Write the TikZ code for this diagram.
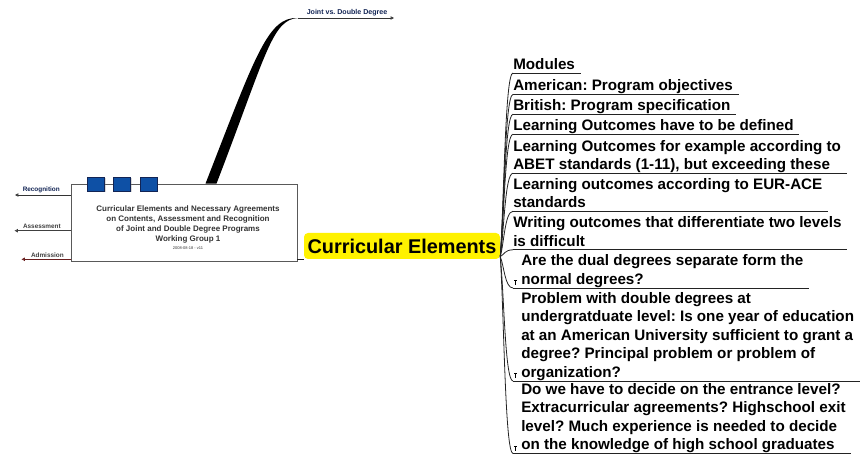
\documentclass[tikz,border=0pt]{standalone}
\usepackage{fontspec}
\setmainfont{Liberation Sans}
\usepackage{xcolor}
\definecolor{WgBlue}{RGB}{14,80,165}
\definecolor{WgNavy}{RGB}{18,36,84}
\definecolor{LinkDark}{RGB}{35,35,35}
\definecolor{AdmRed}{RGB}{105,30,30}
\usetikzlibrary{arrows.meta,calc,shadows,positioning}
\frenchspacing
\tikzset{
  wgbox/.style={draw=black!65, fill=white, line width=0.7pt, minimum width=169.5pt, minimum height=57.75pt, inner sep=0pt},
  wgsq/.style={draw=WgNavy, fill=WgBlue, line width=0.5pt, minimum width=13.1pt, minimum height=10.5pt, inner sep=0pt,
    drop shadow={shadow xshift=0.8pt, shadow yshift=-0.8pt, opacity=0.3}},
  wgtitle/.style={font=\fontsize{6}{7.5}\selectfont\bfseries, text=black!80, align=center, inner sep=0pt},
  topic/.style={fill=yellow, rounded corners=3pt, minimum width=147pt, minimum height=19.5pt, inner sep=0pt,
    font=\fontsize{14.9}{17}\selectfont\bfseries},
  item/.style={font=\fontsize{11.4}{13.9}\selectfont\bfseries, align=left, inner sep=0pt, text depth=2.6pt, anchor=south west},
  branch/.style={draw=LinkDark, line width=0.6pt},
  uline/.style={draw=LinkDark, line width=0.7pt},
  sideline/.style={line width=0.6pt, -{Triangle[open,length=2.6pt,width=2.6pt]}},
  sidelabel/.style={font=\fontsize{4.8}{6}\selectfont\bfseries, inner sep=0pt, anchor=south east},
  notemark/.style={draw=black, line width=0.5pt}
}
\begin{document}
\begin{tikzpicture}[x=0.75pt, y=-0.75pt]
\useasboundingbox (0,0) rectangle (865,456);

% working group box with its three squares
\node[wgbox] (wg) at (184,222.5){};
\foreach \x[count=\c] in {96, 122, 148.6}{
    \node[wgsq] (sq\c) at (\x,184.3){};
}
\node[wgtitle] (wgt) at (188,228){Curricular Elements and Necessary Agreements\\on Contents, Assessment and Recognition\\of Joint and Double Degree Programs\\Working Group 1\\[-1.5pt]{\fontsize{3}{4}\selectfont\mdseries 2008-08-18 - v11}};

% left side topics
\coordinate (rc) at (15,195);
\coordinate (as) at (14.5,230.7);
\coordinate (ad) at (21.5,259.3);
\draw[sideline, draw=black!80] (wg.west |- rc) -- (rc);
\draw[sideline, draw=black!75] (wg.west |- as) -- (as);
\draw[sideline, draw=AdmRed] (wg.west |- ad) -- (ad);
\node[sidelabel, text=WgNavy] (lrc) at (60,193.5){Recognition};
\node[sidelabel, text=black!75] (las) at (61,229.2){Assessment};
\node[sidelabel, text=black!75] (lad) at (64,257.8){Admission};

% joint vs double degree (tapered link)
\coordinate (jroot) at ([xshift=19.9pt]wg.north);
\coordinate (jt) at (298,18);
\coordinate (jend) at (394,18);
\fill[black] ($(jroot)+(-5,0)$) .. controls (256,54) and (268,16.6) .. (jt) .. controls (272,19.4) and (266,55) .. ($(jroot)+(6,0)$) -- cycle;
\draw[sideline, draw=black!80] (jt) -- (jend);
\node[sidelabel, anchor=south west, font=\fontsize{5.3}{6}\selectfont\bfseries, text=WgNavy] (jv) at (306.5,16.5){Joint vs. Double Degree};

% central topic
\node[topic] (ce) at (402,246){Curricular Elements};
\draw[branch] (wg.east |- ce.south) -- (ce.south west);
\coordinate (hub) at ([yshift=2pt]ce.south east);

% subtopics above the hub
\foreach \yu/\txt[count=\i] in {73/{Modules}, 94.5/{American: Program objectives}, 114.3/{British: Program specification},
    134.3/{Learning Outcomes have to be defined},
    173.3/{Learning Outcomes for example according to\\ABET standards (1-11), but exceeding these},
    211.3/{Learning outcomes according to EUR-ACE\\standards},
    249.8/{Writing outcomes that differentiate two levels\\is difficult}}{
    \node[item] (t\i) at (513,\yu){\txt};
    \draw[uline] (t\i.south west) -- ([xshift=4pt]t\i.south east);
    \draw[branch] (hub) .. controls ($(hub)!0.3!(t\i.south west)$) and ([xshift=-6pt]t\i.south west) .. (t\i.south west);
}

% subtopics below the hub (with note marks)
\foreach \yu/\txt[count=\c,evaluate={\i=int(\c+7)}] in {288/{Are the dual degrees separate form the\\normal degrees?},
    381/{Problem with double degrees at\\undergratduate level: Is one year of education\\at an American University sufficient to grant a\\degree? Principal problem or problem of\\organization?},
    453.5/{Do we have to decide on the entrance level?\\Extracurricular agreements? Highschool exit\\level? Much experience is needed to decide\\on the knowledge of high school graduates}}{
    \node[item] (t\i) at (521,\yu){\txt};
    \coordinate (b\i) at ([xshift=-6pt]t\i.south west);
    \draw[uline] (b\i) -- ([xshift=4pt]t\i.south east);
    \draw[branch] (hub) .. controls ($(hub)!0.3!(b\i)$) and ([xshift=-6pt]b\i) .. (b\i);
    \draw[notemark] ([xshift=2pt,yshift=2.2pt]b\i) -- ++(0,3.2pt) ++(-1pt,0) -- ++(2pt,0);
}
\end{tikzpicture}
\end{document}
